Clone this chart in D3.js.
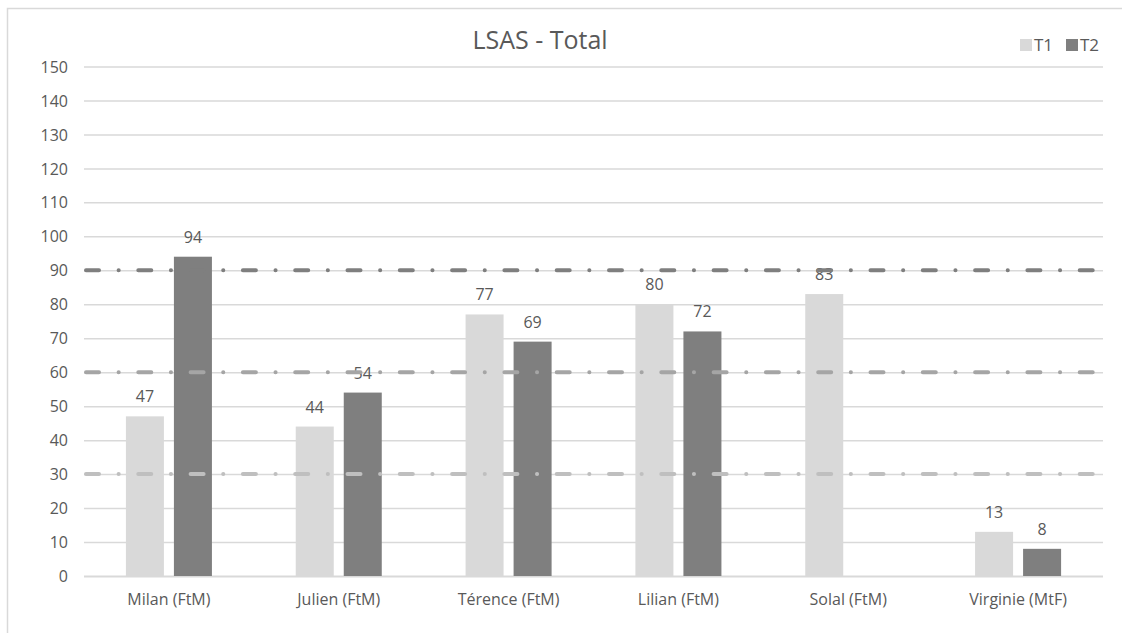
<!DOCTYPE html>
<html>
<head>
<meta charset="utf-8">
<script src="https://cdn.jsdelivr.net/npm/d3@7"></script>
<style>
	body { margin: 0; background: #fff; }
	text { font-family: "Open Sans", sans-serif; fill: #595959; }
</style>
</head>
<body>
<div id="chart"></div>
<script>
// data
const categories	= ["Milan (FtM)", "Julien (FtM)", "Térence (FtM)", "Lilian (FtM)", "Solal (FtM)", "Virginie (MtF)"];
const series		= ["T1", "T2"];
const valuesT1		= [47, 44, 77, 80, 83, 13];
const valuesT2		= [94, 54, 69, 72, null, 8];
const yTicks		= [0, 10, 20, 30, 40, 50, 60, 70, 80, 90, 100, 110, 120, 130, 140, 150];
const refLines		= [90, 60, 30];
const refColors		= ["#7f7f7f", "#a5a5a5", "#bfbfbf"];
const palette		= { T1: "#d9d9d9", T2: "#7f7f7f" };

const canvasWidth	= 1122;
const canvasHeight	= 633;
const margin		= { top: 66.5, right: 19, bottom: 57, left: 84 };
const width			= canvasWidth - margin.left - margin.right;
const height		= canvasHeight - margin.top - margin.bottom;

const rows = categories.map((c, i) => ({ cat: c, T1: valuesT1[i], T2: valuesT2[i] }));

let x0 = d3.scaleBand().domain(categories).range([0, width]).paddingInner(0.4935).paddingOuter(0.4935 / 2);
let x1 = d3.scaleBand().domain(series).range([0, x0.bandwidth()]).paddingInner(10 / 48);
let y  = d3.scaleLinear().domain([0, 150]).range([height, 0]);

let root = d3.select("#chart").append("svg")
	.attr("width", canvasWidth)
	.attr("height", canvasHeight);

// chart frame
root.append("rect")
	.attr("x", 7.5).attr("y", 8.5)
	.attr("width", 1140).attr("height", 640)
	.attr("fill", "none")
	.attr("stroke", "#d9d9d9")
	.attr("stroke-width", 1.5);

root.append("text")
	.attr("x", 540).attr("y", 49)
	.attr("text-anchor", "middle")
	.style("font-size", "25px")
	.text("LSAS - Total");

// legend
let legend = root.append("g").selectAll("g").data(series).enter().append("g")
	.attr("transform", (d, i) => "translate(" + (1020 + i * 46) + ",39)");
legend.append("rect").attr("width", 12).attr("height", 12).attr("fill", (d) => palette[d]);
legend.append("text").attr("x", 14).attr("y", 12).style("font-size", "17px").text((d) => d);

let svg = root.append("g")
	.attr("transform", "translate(" + margin.left + "," + margin.top + ")");

// y axis: gridlines + labels
let yAxis = svg.append("g")
	.call(d3.axisLeft(y).tickValues(yTicks).tickSize(-width).tickFormat(d3.format("d")));
yAxis.select(".domain").remove();
yAxis.selectAll(".tick line")
	.attr("stroke", "#d9d9d9")
	.attr("stroke-width", (d) => (d === 0 ? 2 : 1.5));
yAxis.selectAll(".tick text")
	.attr("x", -16)
	.attr("dy", "0.35em")
	.style("font-size", "16px")
	.style("font-family", "'Open Sans', sans-serif")
	.attr("fill", "#595959");

// x axis labels
let xAxis = svg.append("g")
	.attr("transform", "translate(0," + height + ")")
	.call(d3.axisBottom(x0).tickSize(0));
xAxis.select(".domain").remove();
xAxis.selectAll(".tick text")
	.attr("y", 29)
	.attr("dy", 0)
	.style("font-size", "16px")
	.style("font-family", "'Open Sans', sans-serif")
	.attr("fill", "#595959");

// bars
let groups = svg.append("g").selectAll(".group").data(rows).enter().append("g")
	.attr("transform", (o) => "translate(" + x0(o.cat) + ",0)");

let cells = groups.selectAll(".cell")
	.data((o) => series.map((s) => ({ key: s, value: o[s] })).filter((d) => d.value != null))
	.enter();

cells.append("rect")
	.attr("x", (d) => x1(d.key))
	.attr("width", x1.bandwidth())
	.attr("y", (d) => y(d.value))
	.attr("height", (d) => height - y(d.value))
	.attr("fill", (d) => palette[d.key]);

// reference lines (dash-dot), drawn over the bars
svg.append("g").selectAll("line").data(refLines).enter().append("line")
	.attr("x1", 2).attr("x2", width)
	.attr("y1", (d) => y(d)).attr("y2", (d) => y(d))
	.attr("stroke", (d, i) => refColors[i])
	.attr("stroke-width", 4)
	.attr("stroke-linecap", "round")
	.attr("stroke-dasharray", "13 19.6 0.1 19.6");

// value labels
cells.append("text")
	.attr("x", (d) => x1(d.key) + x1.bandwidth() / 2)
	.attr("y", (d) => y(d.value) - 14)
	.attr("text-anchor", "middle")
	.style("font-size", "16px")
	.attr("fill", "#404040")
	.text((d) => d.value);
</script>
</body>
</html>
